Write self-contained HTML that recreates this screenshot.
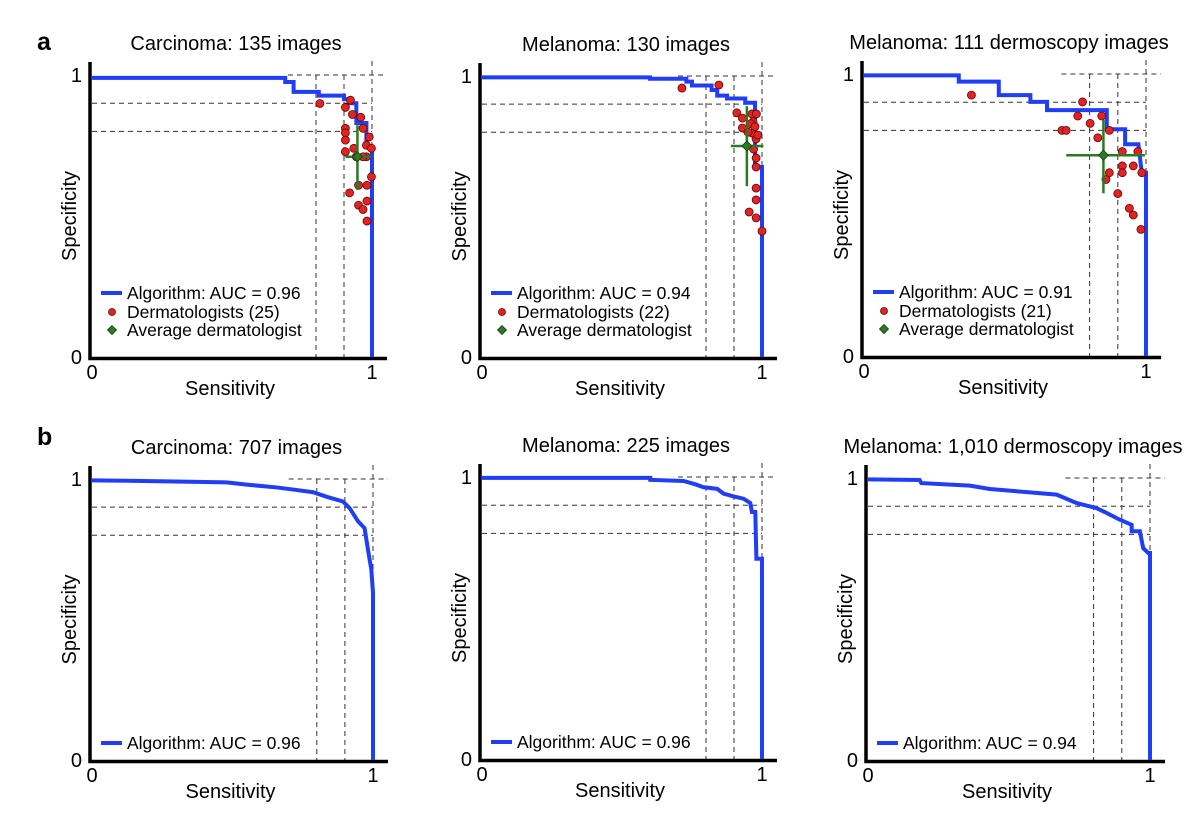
<!DOCTYPE html>
<html><head><meta charset="utf-8"><style>
html,body{margin:0;padding:0;background:#fff}
svg{display:block;font-family:"Liberation Sans",Arial,sans-serif}
</style></head><body>
<svg id="fig" width="1200" height="813" viewBox="0 0 1200 813">
<text x="37" y="50" font-size="25" font-weight="bold">a</text>
<text x="37" y="445" font-size="25" font-weight="bold">b</text>
</svg>
<script>
// ---- data ----
const titles = ["Carcinoma: 135 images","Melanoma: 130 images","Melanoma: 111 dermoscopy images","Carcinoma: 707 images","Melanoma: 225 images","Melanoma: 1,010 dermoscopy images"];
const aucLabels = ["Algorithm: AUC = 0.96","Algorithm: AUC = 0.94","Algorithm: AUC = 0.91","Algorithm: AUC = 0.96","Algorithm: AUC = 0.96","Algorithm: AUC = 0.94"];
const dermLabels = ["Dermatologists (25)","Dermatologists (22)","Dermatologists (21)"];
const xTicks = [0,1];
const yTicks = [0,1];
const refSens = [0.8,0.9];
const refSpec = [0.9,0.8];
// curves: [sensitivity, specificity] vertices
const curveA1 = [[0,0.99],[0.69,0.99],[0.69,0.975],[0.72,0.975],[0.72,0.94],[0.81,0.94],[0.81,0.927],[0.90,0.927],[0.90,0.914],[0.92,0.914],[0.92,0.90],[0.944,0.90],[0.944,0.83],[0.98,0.83],[0.98,0.75],[0.995,0.735],[1,0.735],[1,0]];
const curveA2 = [[0,0.995],[0.60,0.995],[0.60,0.99],[0.73,0.99],[0.73,0.98],[0.75,0.98],[0.75,0.966],[0.82,0.966],[0.82,0.95],[0.84,0.95],[0.84,0.93],[0.875,0.93],[0.875,0.92],[0.94,0.92],[0.94,0.905],[0.975,0.905],[0.975,0.676],[1,0.676],[1,0]];
const curveA3 = [[0,0.995],[0.336,0.995],[0.336,0.973],[0.478,0.973],[0.478,0.925],[0.59,0.925],[0.59,0.901],[0.649,0.901],[0.649,0.872],[0.861,0.872],[0.861,0.804],[0.926,0.804],[0.926,0.751],[0.973,0.751],[0.985,0.65],[1,0.65],[1,0]];
const curveB1 = [[0,0.995],[0.183,0.993],[0.35,0.99],[0.479,0.988],[0.55,0.98],[0.657,0.97],[0.72,0.962],[0.787,0.953],[0.834,0.937],[0.893,0.92],[0.917,0.896],[0.947,0.849],[0.97,0.825],[0.982,0.749],[0.994,0.678],[1,0.595],[1,0]];
const curveB2 = [[0,0.997],[0.601,0.997],[0.601,0.99],[0.72,0.986],[0.762,0.974],[0.79,0.964],[0.84,0.958],[0.863,0.941],[0.899,0.931],[0.934,0.923],[0.958,0.908],[0.964,0.876],[0.976,0.876],[0.98,0.71],[1,0.71],[1,0]];
const curveB3 = [[0,0.995],[0.183,0.993],[0.189,0.982],[0.361,0.973],[0.432,0.961],[0.574,0.949],[0.669,0.941],[0.74,0.911],[0.811,0.893],[0.846,0.876],[0.893,0.852],[0.935,0.834],[0.935,0.811],[0.964,0.811],[0.976,0.751],[0.994,0.734],[1,0.734],[1,0]];
// dermatologists: sensitivity and specificity
const dermSensA1 = [0.814,0.905,0.923,0.905,0.905,0.905,0.905,0.935,0.968,0.98,0.998,0.952,0.982,0.92,0.952,0.968,0.982,0.982,0.998,0.98,0.944,0.968,0.99,0.93,0.96];
const dermSpecA1 = [0.899,0.885,0.911,0.811,0.795,0.769,0.728,0.74,0.811,0.751,0.74,0.609,0.609,0.582,0.538,0.523,0.553,0.482,0.639,0.71,0.71,0.71,0.78,0.86,0.85];
const dermSensA2 = [0.714,0.846,0.91,0.93,0.964,0.98,0.968,0.979,0.964,0.979,0.979,0.979,0.979,0.954,0.979,1.0,0.93,0.96,0.975,0.95,0.985,0.97];
const dermSpecA2 = [0.957,0.968,0.869,0.815,0.865,0.865,0.837,0.776,0.797,0.708,0.676,0.601,0.559,0.516,0.495,0.448,0.85,0.83,0.82,0.80,0.79,0.74];
const dermSensA3 = [0.381,0.775,0.758,0.802,0.843,0.702,0.717,0.87,0.829,0.916,0.971,0.916,0.916,0.955,0.87,0.858,0.985,0.9,0.941,0.955,0.982];
const dermSpecA3 = [0.925,0.901,0.851,0.825,0.851,0.8,0.8,0.8,0.774,0.725,0.725,0.674,0.65,0.674,0.65,0.626,0.65,0.576,0.524,0.5,0.449];
// average dermatologist [sens, spec, sensLo, sensHi, specLo, specHi]
const avgA1 = [0.948,0.71,0.905,0.998,0.592,0.822];
const avgA2 = [0.946,0.751,0.889,1.005,0.608,0.893];
const avgA3 = [0.849,0.712,0.717,0.996,0.577,0.837];

const panels = [
 {x0:92,x1:372,y0:357,y1:75,curve:curveA1,ds:dermSensA1,dp:dermSpecA1,avg:avgA1},
 {x0:482,x1:762,y0:357,y1:76,curve:curveA2,ds:dermSensA2,dp:dermSpecA2,avg:avgA2},
 {x0:864,x1:1146,y0:356,y1:74,curve:curveA3,ds:dermSensA3,dp:dermSpecA3,avg:avgA3},
 {x0:92,x1:373,y0:760,y1:479,curve:curveB1},
 {x0:482,x1:762,y0:759,y1:477,curve:curveB2},
 {x0:868,x1:1150,y0:760,y1:478,curve:curveB3}
];
const NS="http://www.w3.org/2000/svg";
const svg=document.getElementById('fig');
function mk(tag,attrs,parent,txt){const e=document.createElementNS(NS,tag);for(const k in attrs)e.setAttribute(k,attrs[k]);if(txt!==undefined)e.textContent=txt;(parent||svg).appendChild(e);return e;}
panels.forEach((p,i)=>{
 const sx=v=>p.x0+v*(p.x1-p.x0);
 const sy=v=>p.y0-v*(p.y0-p.y1);
 const g=mk('g',{});
 
 
 const t=mk('text',{x:(p.x0+p.x1)/2+4,y:p.y1-25,'font-size':20,'text-anchor':'middle'},g,titles[i]);
 
 
 // dashed reference lines
 const dg=mk('g',{stroke:'#333','stroke-width':1,'stroke-dasharray':'5,4',fill:'none'},g);
 
 
 refSens.forEach(s=>mk('line',{x1:sx(s),x2:sx(s),y1:sy(1),y2:p.y0},dg));
 refSpec.forEach(s=>mk('line',{x1:p.x0,x2:sx(1),y1:sy(s),y2:sy(s)},dg));
 mk('line',{x1:sx(0.7),x2:p.x1+15,y1:sy(1),y2:sy(1)},dg);
 mk('line',{x1:sx(1),x2:sx(1),y1:p.y1-14,y2:p.y0},dg);
 // axes
 const ax=mk('path',{d:`M${p.x0-2},${p.y1-13} L${p.x0-2},${p.y0+1.5} L${p.x1+15},${p.y0+1.5}`,stroke:'#000','stroke-width':3.5,fill:'none'},g);
 
 
 yTicks.forEach(v=>{const e=mk('text',{x:p.x0-10,y:sy(v)+7,'font-size':20,'text-anchor':'end'},g,String(v));
  
  });
 xTicks.forEach(v=>{const e=mk('text',{x:sx(v),y:p.y0+22,'font-size':20,'text-anchor':'middle'},g,String(v));
  
  });
 const xl=mk('text',{x:(p.x0+p.x1)/2-2,y:p.y0+38,'font-size':20,'text-anchor':'middle'},g,'Sensitivity');
 
 
 const yc=(p.y0+p.y1)/2;
 const yl=mk('text',{x:p.x0-16,y:yc,'font-size':20,'text-anchor':'middle',transform:`rotate(-90 ${p.x0-16} ${yc})`},g,'Specificity');
 
 
 // curve
 const cv=mk('polyline',{points:p.curve.map(c=>sx(c[0])+','+sy(c[1])).join(' '),stroke:'#1f3ef5','stroke-width':4,fill:'none','stroke-linejoin':'miter'},g);
 
 
 // dermatologists
 if(p.ds){
  p.ds.forEach((s,k)=>{const c=mk('circle',{cx:sx(s),cy:sy(p.dp[k]),r:4,fill:'#e52222',stroke:'#5a0a0a','stroke-width':0.8},g);
   
   });
  const a=p.avg;
  const eg=mk('g',{stroke:'#2a7a22','stroke-width':2.5},g);
  
  
  mk('line',{x1:sx(a[2]),x2:sx(a[3]),y1:sy(a[1]),y2:sy(a[1])},eg);
  mk('line',{x1:sx(a[0]),x2:sx(a[0]),y1:sy(a[4]),y2:sy(a[5])},eg);
  const cx=sx(a[0]),cy=sy(a[1]);
  mk('path',{d:`M${cx},${cy-5} L${cx+5},${cy} L${cx},${cy+5} L${cx-5},${cy}Z`,fill:'#2a7a22',stroke:'#123d10','stroke-width':0.8},eg);
 }
 // legend
 const lx=p.x0+9, ly=p.ds?p.y0-64:p.y0-17;
 const lg=mk('g',{},g);
 
 
 mk('line',{x1:lx,x2:lx+21,y1:ly,y2:ly,stroke:'#1f3ef5','stroke-width':4},lg);
 mk('text',{x:lx+26,y:ly+6,'font-size':17.5},lg,aucLabels[i]);
 if(p.ds){
  mk('circle',{cx:lx+11,cy:ly+19,r:3.5,fill:'#e52222',stroke:'#5a0a0a','stroke-width':0.8},lg);
  mk('text',{x:lx+26,y:ly+25,'font-size':17.5},lg,dermLabels[i]);
  const cx=lx+11,cy=ly+37;
  mk('path',{d:`M${cx},${cy-4.5} L${cx+4.5},${cy} L${cx},${cy+4.5} L${cx-4.5},${cy}Z`,fill:'#2a7a22',stroke:'#123d10','stroke-width':0.8},lg);
  mk('text',{x:lx+26,y:ly+43,'font-size':17.5},lg,'Average dermatologist');
 }
});
</script>
</body></html>
